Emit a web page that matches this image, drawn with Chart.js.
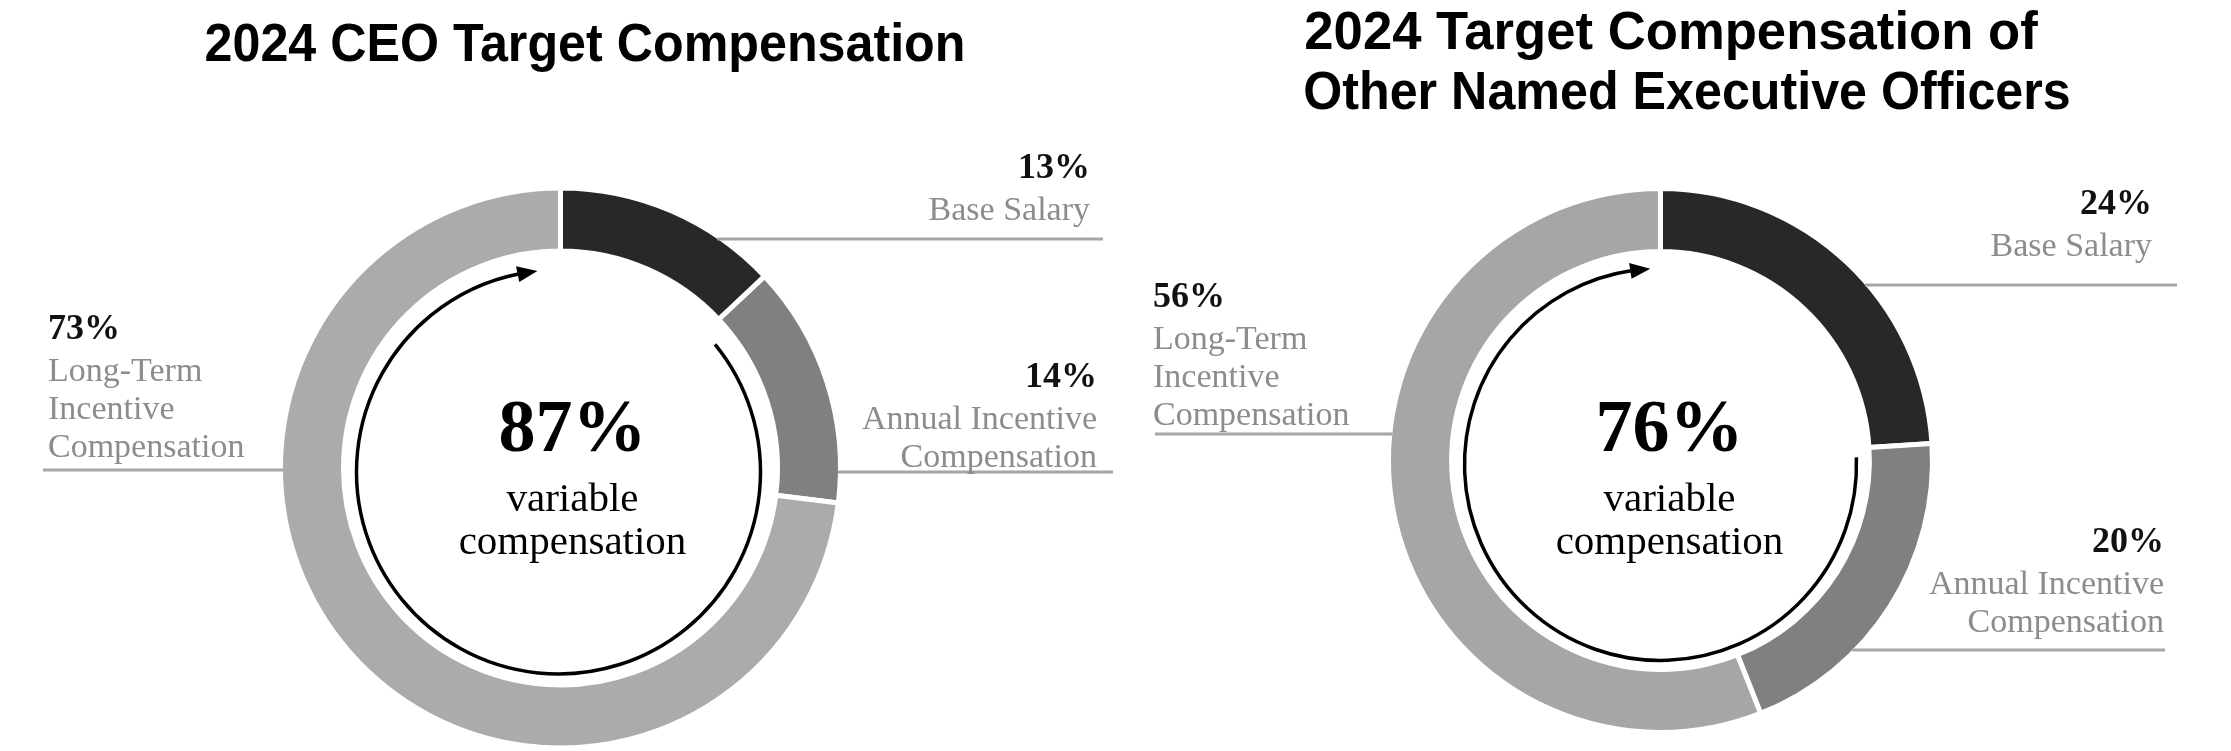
<!DOCTYPE html>
<html>
<head>
<meta charset="utf-8">
<script src="https://cdn.jsdelivr.net/npm/chart.js@4.4.1/dist/chart.umd.min.js"></script>
<style>
  html, body { margin: 0; padding: 0; background: #fff; }
  #wrap { position: relative; width: 2231px; height: 751px; }
  canvas { position: absolute; top: 0; }
</style>
</head>
<body>
<div id="wrap">
  <canvas id="ceo" width="1115" height="751" style="left:0"></canvas>
  <canvas id="neo" width="1116" height="751" style="left:1115px"></canvas>
</div>
<script>
// data
const categories = ['Base Salary', 'Annual Incentive Compensation', 'Long-Term Incentive Compensation'];
const categoryLines = [['Base Salary'], ['Annual Incentive', 'Compensation'], ['Long-Term', 'Incentive', 'Compensation']];
const ceoValues = [13, 14, 73];
const neoValues = [24, 20, 56];
const ceoVariable = 87;
const neoVariable = 76;
const ceoTitle = ['2024 CEO Target Compensation'];
const neoTitle = ['2024 Target Compensation of', 'Other Named Executive Officers'];

const BORDER = 5;
const SERIF = '"Liberation Serif", "Times New Roman", serif';

// draws titles, leader lines, labels, center text and the arrow
const deco = {
    id: 'deco',
    afterDraw(chart, args, o) {
        const ctx = chart.ctx;
        const arc = chart.getDatasetMeta(0).data[0];
        const cx = arc.x, cy = arc.y;
        const R = arc.outerRadius - BORDER / 2;
        const values = chart.data.datasets[0].data;
        ctx.save();

        // title (slightly condensed bold sans)
        ctx.fillStyle = '#000';
        ctx.font = 'bold 54px "Liberation Sans", Arial, sans-serif';
        ctx.textAlign = 'center';
        ctx.textBaseline = 'middle';
        o.title.forEach((t, i) => {
            ctx.save();
            ctx.translate(o.titleX[i], o.titleY + i * 60);
            ctx.scale(o.titleScale[i], 1);
            ctx.fillText(t, 0, 0);
            ctx.restore();
        });

        // leader lines + labels
        o.pos.forEach((p, i) => {
            const dy = p.lineY - cy;
            const half = Math.sqrt(Math.max(R * R - dy * dy, 0));
            ctx.strokeStyle = '#a6a6a6';
            ctx.lineWidth = 3;
            ctx.beginPath();
            if (p.side === 'left') {
                ctx.moveTo(p.lineEnd, p.lineY);
                ctx.lineTo(cx - half, p.lineY);
            } else {
                ctx.moveTo(cx + half, p.lineY);
                ctx.lineTo(p.lineEnd, p.lineY);
            }
            ctx.stroke();

            ctx.textAlign = p.side;
            ctx.fillStyle = '#111';
            ctx.font = 'bold 36px ' + SERIF;
            ctx.fillText(values[i] + '%', p.x, p.y);
            ctx.fillStyle = '#8c8c8c';
            ctx.font = '34px ' + SERIF;
            chart.data.labelLines[i].forEach((t, j) => ctx.fillText(t, p.x, p.y + 42 + 38 * j));
        });

        // center text
        ctx.textAlign = 'center';
        ctx.fillStyle = '#000';
        ctx.font = 'bold 74px ' + SERIF;
        ctx.fillText(o.variable + '%', cx + o.textDx, o.textY[0]);
        ctx.font = '41px ' + SERIF;
        ctx.fillText('variable', cx + o.textDx, o.textY[1]);
        ctx.fillText('compensation', cx + o.textDx, o.textY[2]);

        // arrow around the variable part
        const r = o.arrowR;
        const ax = cx + o.arrowDx, ay = cy + o.arrowDy;
        const a0 = -Math.PI / 2 + values[0] / 100 * 2 * Math.PI + o.arrowGap * Math.PI / 180;
        const a1 = -Math.PI / 2 + 2 * Math.PI + o.arrowEnd * Math.PI / 180;
        const head = 20, hw = 8;
        const aBase = a1 - head / r;
        ctx.strokeStyle = '#000';
        ctx.lineWidth = 3.5;
        ctx.beginPath();
        ctx.arc(ax, ay, r, a0, aBase + 0.01, false);
        ctx.stroke();
        const tx = ax + r * Math.cos(a1), ty = ay + r * Math.sin(a1);
        const bx = ax + r * Math.cos(aBase), by = ay + r * Math.sin(aBase);
        const nx = Math.cos(aBase), ny = Math.sin(aBase);
        ctx.fillStyle = '#000';
        ctx.beginPath();
        ctx.moveTo(tx, ty);
        ctx.lineTo(bx + nx * hw, by + ny * hw);
        ctx.lineTo(bx - nx * hw, by - ny * hw);
        ctx.closePath();
        ctx.fill();
        ctx.restore();
    }
};

function makeChart(id, values, colors, padding, cutout, deco_opts) {
    return new Chart(document.getElementById(id), {
        type: 'doughnut',
        data: {
            labels: categories,
            labelLines: categoryLines,
            datasets: [{
                data: values,
                backgroundColor: colors,
                borderColor: '#ffffff',
                borderWidth: BORDER,
                hoverOffset: 0
            }]
        },
        options: {
            responsive: false,
            animation: false,
            cutout: cutout,
            rotation: 0,
            layout: { padding: padding },
            events: [],
            plugins: {
                legend: { display: false },
                tooltip: { enabled: false },
                deco: deco_opts
            }
        },
        plugins: [deco]
    });
}

makeChart('ceo', ceoValues, ['#282828', '#808080', '#adaaaa'],
    { left: 278, top: 185.5, right: 272, bottom: 0.5 }, '77.5%', {
        title: ceoTitle, titleX: [585], titleY: 46, titleScale: [0.93],
        variable: ceoVariable, textDx: 12, textY: [432, 500, 543],
        arrowR: 202, arrowDx: -2, arrowDy: 4, arrowGap: 4, arrowEnd: -6,
        pos: [
            { side: 'right', x: 1090, y: 169, lineY: 239, lineEnd: 1103 },
            { side: 'right', x: 1097, y: 378, lineY: 472, lineEnd: 1113 },
            { side: 'left', x: 48, y: 330, lineY: 470, lineEnd: 43 }
        ]
    });

makeChart('neo', neoValues, ['#282828', '#808080', '#a6a6a6'],
    { left: 271, top: 186, right: 296, bottom: 16 }, '76.8%', {
        title: neoTitle, titleX: [556, 572], titleY: 34, titleScale: [0.975, 0.93],
        variable: neoVariable, textDx: 9, textY: [432, 500, 543],
        arrowR: 196, arrowDx: 0, arrowDy: 4, arrowGap: 1.5, arrowEnd: -3,
        pos: [
            { side: 'right', x: 1037, y: 205, lineY: 285, lineEnd: 1062 },
            { side: 'right', x: 1049, y: 543, lineY: 650, lineEnd: 1050 },
            { side: 'left', x: 38, y: 298, lineY: 434, lineEnd: 40 }
        ]
    });
</script>
</body>
</html>
